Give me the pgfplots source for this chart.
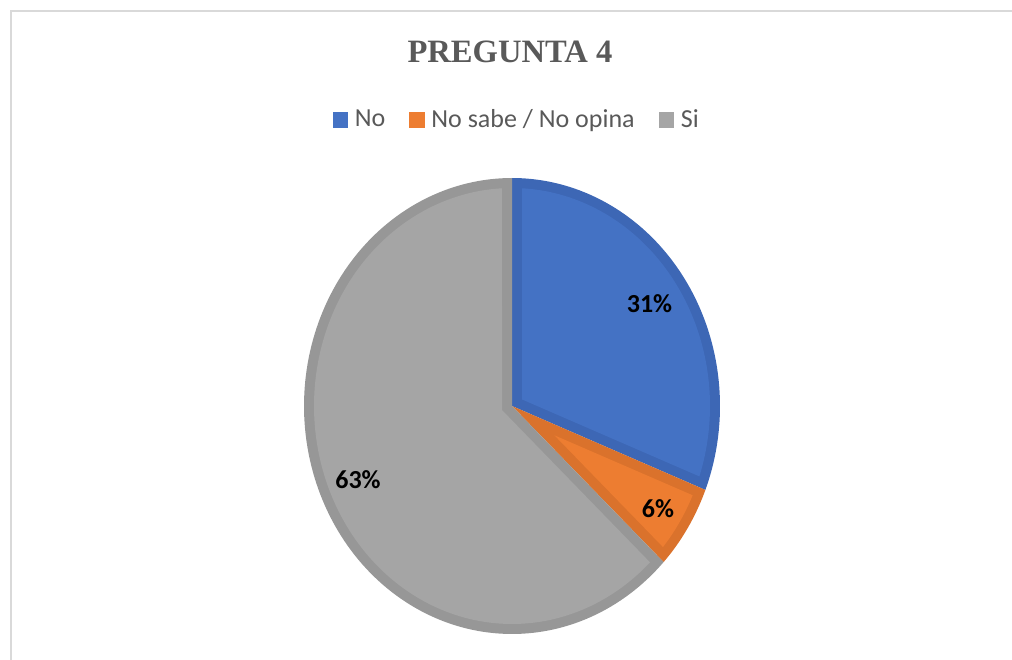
\documentclass[border=0pt]{standalone}
\usepackage{fontspec}
\setmainfont{Carlito}
\newfontfamily\titlefont{Liberation Serif}
\usepackage{pgfplots}
\pgfplotsset{compat=1.18}
\definecolor{blueL}{HTML}{4472C4}
\definecolor{blueD}{HTML}{3D67B5}
\definecolor{orangeL}{HTML}{ED7D31}
\definecolor{orangeD}{HTML}{DA722C}
\definecolor{grayL}{HTML}{A5A5A5}
\definecolor{grayD}{HTML}{979797}
\definecolor{txt}{HTML}{595959}
\definecolor{framec}{HTML}{D9D9D9}
% data (percent)
\def\vNo{31}
\def\vNs{6}
\def\vSi{63}
\pgfmathsetmacro\aA{90-3.6*\vNo}
\pgfmathsetmacro\aB{\aA-3.6*\vNs}
\begin{document}
\begin{tikzpicture}
\begin{axis}[
  scale only axis, width=506pt, height=329.5pt,
  xmin=0, xmax=1012, ymin=0, ymax=659,
  hide axis,
  legend columns=3,
  legend style={at={(0.513,0.818)}, anchor=center, draw=none, fill=none,
    font=\fontsize{13}{15}\selectfont, text=txt,
    /tikz/every even column/.append style={column sep=8.5pt},
    nodes={inner ysep=1.5pt, inner xsep=3.5pt}},
  legend image code/.code={\fill[#1] (0pt,-3.6pt) rectangle (7.2pt,3.6pt);},
]
\addplot[draw=none, forget plot] coordinates {(0,0) (1012,659)};
\addplot[draw=framec, line width=1pt, forget plot] coordinates {(11,-20) (11,648) (1040,648)};
% No
\addplot[fill=blueD, draw=none, forget plot, domain=\aA:90, samples=90]
  ({512+208*cos(x)},{253+228*sin(x)}) -- (512,253) -- cycle;
\addplot[fill=blueL, draw=none, forget plot, domain=\aA+2.76:87.1, samples=90]
  ({512+198*cos(x)},{253+218*sin(x)}) -- (522,259.56) -- cycle;
% No sabe / No opina
\addplot[fill=orangeD, draw=none, forget plot, domain=\aB:\aA, samples=40]
  ({512+208*cos(x)},{253+228*sin(x)}) -- (512,253) -- cycle;
\addplot[fill=orangeL, draw=none, forget plot, domain=\aB+2.89:\aA-2.57, samples=40]
  ({512+198*cos(x)},{253+218*sin(x)}) -- (554.4,223.7) -- cycle;
% Si
\addplot[fill=grayD, draw=none, forget plot, domain=90:\aB+360, samples=150]
  ({512+208*cos(x)},{253+228*sin(x)}) -- (512,253) -- cycle;
\addplot[fill=grayL, draw=none, forget plot, domain=92.9:\aB+360-2.62, samples=150]
  ({512+198*cos(x)},{253+218*sin(x)}) -- (502,248.94) -- cycle;
\addlegendimage{blueL}
\addlegendentry{No}
\addlegendimage{orangeL}
\addlegendentry{No sabe / No opina}
\addlegendimage{grayL}
\addlegendentry{Si}
\node[font=\titlefont\bfseries\fontsize{16.3}{19}\selectfont, text=txt, anchor=base] at (axis cs:510,596) {PREGUNTA 4};
\node[font=\bfseries\fontsize{13}{15}\selectfont] at (axis cs:649.5,355) {31\%};
\node[font=\bfseries\fontsize{13}{15}\selectfont] at (axis cs:658,150) {6\%};
\node[font=\bfseries\fontsize{13}{15}\selectfont] at (axis cs:358,179) {63\%};
\end{axis}
\end{tikzpicture}
\end{document}
